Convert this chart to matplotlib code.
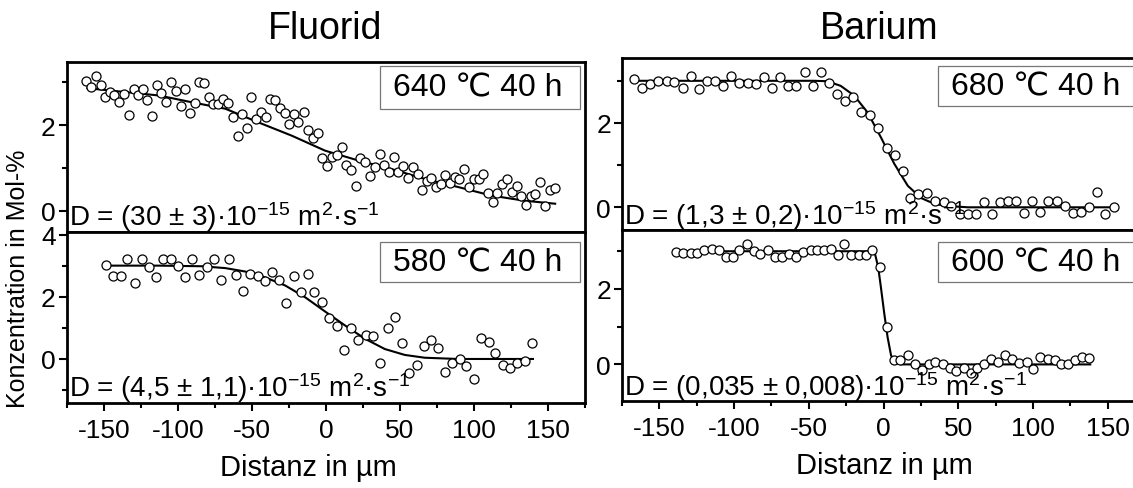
import matplotlib
matplotlib.use("Agg")
import matplotlib.pyplot as plt
from matplotlib.patches import Rectangle
from matplotlib.ticker import MultipleLocator

plt.rcParams['font.family'] = ['Liberation Sans', 'DejaVu Sans']
plt.rcParams['mathtext.fontset'] = 'custom'
plt.rcParams['mathtext.rm'] = 'Liberation Sans'
plt.rcParams['mathtext.default'] = 'regular'
plt.rcParams['axes.unicode_minus'] = False

# Fluorid, 640 C 40 h
f640_x = [-162.4, -159.0, -155.6, -152.2, -149.3, -146.2, -143.3, -139.9, -136.5, -133.1,
          -129.8, -126.8, -123.7, -120.6, -117.4, -114.0, -111.1, -108.0, -104.4, -101.2,
          -98.1, -94.9, -91.8, -88.6, -85.9, -82.3, -79.2, -76.3, -72.9, -69.5,
          -66.2, -63.0, -59.4, -56.7, -53.4, -50.4, -47.1, -44.1, -40.5, -37.6,
          -34.2, -31.1, -27.9, -24.8, -21.7, -18.5, -15.1, -11.8, -8.8, -5.5,
          -2.3, 0.8, 4.0, 7.6, 10.7, 13.9, 17.0, 20.2, 23.3, 26.4,
          29.6, 33.2, 36.3, 39.5, 42.6, 45.8, 48.9, 52.3, 55.4, 58.6,
          62.0, 65.1, 68.3, 71.4, 74.5, 77.7, 80.8, 84.0, 87.1, 90.3,
          93.4, 97.0, 100.2, 103.3, 106.5, 109.6, 112.8, 115.9, 119.1, 122.7,
          125.8, 128.9, 132.1, 135.2, 138.4, 141.5, 144.7, 148.3, 151.4, 154.6]
f640_y = [3.04, 2.88, 3.14, 2.94, 2.65, 2.77, 2.70, 2.53, 2.73, 2.24,
          2.84, 2.70, 2.84, 2.59, 2.22, 2.94, 2.75, 2.53, 3.00, 2.79,
          2.44, 2.83, 2.28, 2.52, 3.01, 2.98, 2.65, 2.49, 2.49, 2.61,
          2.52, 2.18, 1.75, 2.26, 1.92, 2.65, 2.13, 2.31, 2.18, 2.61,
          2.59, 2.39, 2.28, 2.03, 2.26, 2.08, 2.30, 1.89, 1.69, 1.82,
          1.22, 1.04, 1.25, 1.30, 1.48, 1.07, 0.94, 0.58, 1.22, 1.13,
          0.80, 1.01, 1.32, 1.07, 0.91, 1.25, 0.91, 1.05, 0.76, 1.01,
          0.86, 0.48, 0.70, 0.76, 0.55, 0.62, 0.82, 0.64, 0.78, 0.73,
          0.96, 0.55, 0.73, 0.73, 0.86, 0.41, 0.20, 0.41, 0.62, 0.73,
          0.43, 0.58, 0.34, 0.12, 0.34, 0.39, 0.66, 0.10, 0.49, 0.52]
f640_fit_x = [-161.2, -135.4, -112.9, -90.4, -67.9, -45.5, -23.0, -0.5,
              22.0, 44.4, 66.9, 89.4, 111.9, 134.3, 155.0]
f640_fit_y = [2.86, 2.77, 2.69, 2.53, 2.38, 2.06, 1.75, 1.40,
              1.17, 0.97, 0.74, 0.55, 0.35, 0.23, 0.16]

# Fluorid, 580 C 40 h
f580_x = [-148.9, -143.9, -138.8, -134.3, -129.1, -124.6, -119.7, -114.7, -110.2, -104.4,
          -99.9, -94.9, -90.4, -85.5, -80.3, -75.8, -70.9, -65.7, -60.8, -56.0,
          -51.1, -46.2, -41.4, -36.5, -31.5, -26.6, -21.7, -16.7, -12.2, -7.7,
          -2.3, 2.4, 7.3, 12.3, 17.0, 22.0, 26.9, 31.8, 36.8, 41.7,
          46.7, 51.2, 56.3, 61.3, 66.5, 71.0, 75.9, 80.4, 85.6, 90.5,
          95.0, 100.2, 105.1, 110.1, 114.6, 119.7, 124.7, 129.4, 134.3, 139.3]
f580_y = [3.03, 2.69, 2.69, 3.21, 2.45, 3.21, 2.96, 2.63, 3.21, 3.21,
          3.01, 2.63, 3.21, 2.71, 2.96, 3.21, 2.56, 3.21, 2.71, 2.20,
          2.74, 2.67, 2.53, 2.80, 2.56, 1.81, 2.67, 2.15, 2.74, 2.17,
          1.85, 1.31, 1.05, 0.30, 0.99, 0.62, 0.78, 0.73, -0.13, 0.99,
          1.34, 0.52, -0.45, -0.19, 0.41, 0.62, 0.34, -0.41, -0.13, 0.00,
          -0.24, -0.64, 0.67, 0.56, 0.19, -0.19, -0.30, -0.13, -0.05, 0.52]
f580_fit_x = [-148.9, -112.9, -83.7, -67.9, -54.5, -41.0, -27.5, -14.0, -0.5,
              13.0, 26.5, 39.9, 53.4, 66.9, 89.4, 140.0]
f580_fit_y = [3.01, 3.01, 2.99, 2.93, 2.82, 2.63, 2.37, 1.99, 1.53,
              1.08, 0.65, 0.32, 0.13, 0.04, 0.00, 0.00]

# Barium, 680 C 40 h
b680_x = [-167.2, -161.4, -156.4, -150.8, -145.2, -140.1, -134.5, -128.9, -123.5, -118.3,
          -112.7, -107.6, -102.2, -96.4, -90.8, -85.2, -79.8, -74.4, -69.0, -64.1,
          -58.5, -52.9, -47.3, -41.7, -36.5, -31.4, -25.8, -20.2, -15.2, -8.9,
          -3.6, 2.0, 7.6, 13.3, 18.0, 23.3, 28.9, 34.6, 40.2, 45.3,
          50.9, 56.5, 61.7, 67.3, 72.7, 77.8, 83.4, 88.8, 94.2, 99.6,
          104.7, 110.3, 115.9, 121.5, 126.7, 132.1, 137.2, 142.8, 148.4, 154.0]
b680_y = [3.04, 2.84, 2.92, 2.99, 3.00, 2.96, 2.83, 3.12, 2.80, 2.99,
          3.00, 2.87, 3.12, 2.94, 2.94, 2.92, 3.10, 2.83, 3.08, 2.88,
          2.88, 3.22, 2.88, 3.22, 2.94, 2.69, 2.53, 2.61, 2.27, 2.20,
          1.88, 1.41, 1.25, 0.85, 0.22, 0.32, 0.33, 0.14, 0.12, 0.02,
          -0.16, -0.16, -0.17, 0.12, -0.16, 0.12, 0.14, 0.16, -0.14, 0.14,
          -0.12, 0.14, 0.14, 0.04, -0.14, -0.10, 0.00, 0.36, -0.16, 0.00]
b680_fit_x = [-167.2, -46.6, -37.6, -28.7, -19.7, -10.7, -1.8, 7.2,
              16.2, 25.1, 34.1, 43.1, 56.5, 154.0]
b680_fit_y = [3.00, 3.00, 2.99, 2.88, 2.65, 2.25, 1.66, 1.03,
              0.51, 0.22, 0.08, 0.03, 0.00, 0.00]

# Barium, 600 C 40 h
b600_x = [-139.0, -134.0, -129.1, -124.6, -120.1, -115.0, -110.0, -105.3, -100.9, -96.4,
          -91.4, -87.0, -82.5, -77.5, -72.6, -67.9, -63.4, -58.7, -53.8, -48.8,
          -44.4, -39.9, -34.9, -30.5, -26.4, -21.5, -16.3, -11.6, -7.8, -2.4,
          2.3, 6.8, 11.2, 16.2, 21.1, 25.6, 30.1, 34.6, 39.7, 44.2,
          48.7, 53.8, 58.3, 62.8, 67.3, 72.2, 76.7, 81.2, 86.1, 90.6,
          95.7, 100.2, 104.7, 109.9, 114.4, 118.8, 123.3, 127.8, 132.7, 137.2]
b600_y = [2.98, 2.95, 2.95, 2.95, 3.02, 3.07, 3.04, 2.85, 2.85, 3.02,
          3.18, 3.01, 2.92, 3.04, 2.85, 2.85, 2.92, 2.85, 2.98, 3.04,
          3.02, 3.02, 3.07, 2.89, 3.20, 2.89, 2.89, 2.89, 3.02, 2.58,
          0.99, 0.11, 0.12, 0.24, 0.02, -0.14, 0.02, 0.06, 0.02, -0.09,
          -0.18, -0.09, -0.23, -0.09, 0.02, 0.15, 0.06, 0.24, 0.15, 0.03,
          0.06, -0.12, 0.19, 0.15, 0.12, 0.00, 0.02, 0.12, 0.19, 0.17]
b600_fit_x = [-139.0, -8.5, -5.8, -3.6, -1.8, 0.5, 2.7, 5.0, 7.6, 11.7, 138.3]
b600_fit_y = [3.00, 3.00, 2.94, 2.58, 2.05, 1.34, 0.72, 0.24, 0.06, 0.00, 0.00]


def draw_panel(ax, x, y, fx, fy, label, dtext, ylim, bottom, box):
    ax.plot(fx, fy, color='black', lw=1.5, zorder=2)
    ax.plot(x, y, 'o', mfc='white', mec='black', ms=6.5, mew=0.9, zorder=3)
    ax.set_xlim(-175, 175)
    ax.set_ylim(*ylim)
    ax.xaxis.set_major_locator(MultipleLocator(50))
    ax.xaxis.set_minor_locator(MultipleLocator(25))
    ax.yaxis.set_major_locator(MultipleLocator(2))
    ax.yaxis.set_minor_locator(MultipleLocator(1))
    for s in ax.spines.values():
        s.set_linewidth(2.0)
    ax.tick_params(which='major', direction='out', length=6, width=1.5, labelsize=19, pad=2)
    ax.tick_params(which='minor', direction='out', length=3.5, width=1.5)
    if not bottom:
        ax.tick_params(which='both', bottom=False, labelbottom=False)
    else:
        ax.tick_params(axis='x', which='major', pad=5)
    # label box: (left, bottom, top) in axes fractions
    x0, y0, y1 = box
    ax.add_patch(Rectangle((x0, y0), 0.386, y1 - y0, transform=ax.transAxes,
                           fc='white', ec='#777777', lw=0.9, zorder=5))
    ax.text(x0 + 0.025, (y0 + y1) / 2, label, transform=ax.transAxes, ha='left',
            va='center', fontsize=23, zorder=6)
    ax.text(0.004, 0.09, dtext, transform=ax.transAxes, ha='left', va='center', fontsize=20,
            zorder=4)


fig = plt.figure(figsize=(11.33, 4.89), dpi=100)

ax1 = fig.add_axes([0.0591, 0.5245, 0.457, 0.3473])
ax2 = fig.add_axes([0.0591, 0.1738, 0.457, 0.3507])
ax3 = fig.add_axes([0.549, 0.5266, 0.4617, 0.3527])
ax4 = fig.add_axes([0.549, 0.1779, 0.4617, 0.3487])

draw_panel(ax1, f640_x, f640_y, f640_fit_x, f640_fit_y, '640 ℃ 40 h',
           'D = (30 ± 3)·10$^{-15}$ m$^{2}$·s$^{-1}$', (-0.49, 3.48), False,
           (0.604, 0.72, 0.972))
draw_panel(ax2, f580_x, f580_y, f580_fit_x, f580_fit_y, '580 ℃ 40 h',
           'D = (4,5 ± 1,1)·10$^{-15}$ m$^{2}$·s$^{-1}$', (-1.42, 4.11), True,
           (0.604, 0.706, 0.939))
draw_panel(ax3, b680_x, b680_y, b680_fit_x, b680_fit_y, '680 ℃ 40 h',
           'D = (1,3 ± 0,2)·10$^{-15}$ m$^{2}$·s$^{-1}$', (-0.55, 3.54), False,
           (0.604, 0.72, 0.953))
draw_panel(ax4, b600_x, b600_y, b600_fit_x, b600_fit_y, '600 ℃ 40 h',
           'D = (0,035 ± 0,008)·10$^{-15}$ m$^{2}$·s$^{-1}$', (-0.97, 3.55), True,
           (0.604, 0.698, 0.932))

fig.text(0.287, 0.94, 'Fluorid', ha='center', va='center', fontsize=27)
fig.text(0.776, 0.94, 'Barium', ha='center', va='center', fontsize=27)
fig.text(0.272, 0.043, 'Distanz in µm', ha='center', va='center', fontsize=21)
fig.text(0.781, 0.048, 'Distanz in µm', ha='center', va='center', fontsize=21)
fig.text(0.016, 0.43, 'Konzentration in Mol-%', ha='center', va='center',
         rotation=90, fontsize=18)

fig.savefig('out.png', dpi=100)
